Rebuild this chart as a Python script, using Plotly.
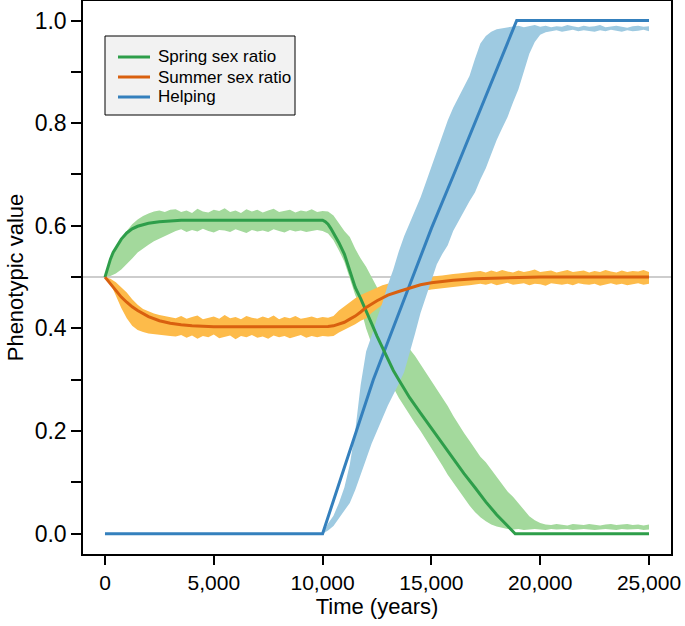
import plotly.graph_objects as go

# ---------------- data ----------------
# band time grid (years), every 250 years
TIME = list(range(0, 25001, 250))
TIME_HELP = list(range(10000, 25001, 250))

SPRING_UPPER = [
    0.500, 0.530, 0.555, 0.575, 0.590, 0.603, 0.612, 0.619, 0.624, 0.628, 0.630, 0.627, 0.631,
    0.632, 0.627, 0.630, 0.625, 0.633, 0.628, 0.626, 0.631, 0.629, 0.634, 0.627, 0.630, 0.625, 0.632,
    0.628, 0.631, 0.626, 0.630, 0.633, 0.627, 0.629, 0.631, 0.626, 0.630, 0.628, 0.632, 0.627, 0.629,
    0.628, 0.620, 0.605, 0.590, 0.578, 0.555, 0.536, 0.520, 0.500, 0.481, 0.460, 0.440, 0.420, 0.400,
    0.381, 0.360, 0.346, 0.330, 0.312, 0.296, 0.280, 0.266, 0.249, 0.230, 0.212, 0.196, 0.181, 0.166,
    0.150, 0.139, 0.125, 0.110, 0.095, 0.082, 0.072, 0.060, 0.046, 0.034, 0.026, 0.021, 0.018,
    0.017, 0.019, 0.018, 0.016, 0.019, 0.018, 0.017, 0.019, 0.018, 0.016, 0.018, 0.019, 0.017, 0.018,
    0.019, 0.017, 0.018, 0.016, 0.018,
]
SPRING_LOWER = [
    0.500, 0.502, 0.507, 0.515, 0.525, 0.536, 0.548, 0.556, 0.563, 0.570, 0.576, 0.581, 0.585,
    0.590, 0.593, 0.588, 0.592, 0.589, 0.594, 0.590, 0.587, 0.592, 0.591, 0.588, 0.593, 0.590, 0.586,
    0.592, 0.589, 0.591, 0.588, 0.593, 0.590, 0.587, 0.592, 0.589, 0.591, 0.588, 0.590, 0.592, 0.590,
    0.585, 0.572, 0.552, 0.530, 0.497, 0.465, 0.440, 0.400, 0.370, 0.345, 0.320, 0.300, 0.285, 0.265,
    0.250, 0.232, 0.215, 0.200, 0.185, 0.168, 0.150, 0.133, 0.115, 0.100, 0.085, 0.070, 0.055, 0.042,
    0.032, 0.024, 0.018, 0.014, 0.011, 0.009,
    0.008, 0.009, 0.007, 0.008, 0.009, 0.008, 0.007, 0.009, 0.008, 0.008, 0.009, 0.007, 0.008, 0.009,
    0.008, 0.007, 0.008, 0.009, 0.008, 0.007, 0.009, 0.008, 0.008, 0.009, 0.007, 0.008,
]
SUMMER_UPPER = [
    0.500, 0.497, 0.490, 0.480, 0.470, 0.457, 0.446, 0.438, 0.433, 0.429, 0.426, 0.424, 0.422,
    0.420, 0.424, 0.419, 0.422, 0.425, 0.418, 0.421, 0.423, 0.419, 0.426, 0.420, 0.422, 0.418, 0.424,
    0.421, 0.419, 0.423, 0.420, 0.425, 0.418, 0.422, 0.420, 0.424, 0.419, 0.421, 0.423, 0.420, 0.422,
    0.421, 0.424, 0.435, 0.443, 0.450, 0.459, 0.465, 0.470, 0.475, 0.480, 0.484, 0.487, 0.489, 0.491,
    0.493, 0.494, 0.496, 0.497, 0.499, 0.500, 0.502, 0.503, 0.505, 0.506, 0.507, 0.508, 0.509, 0.510,
    0.512, 0.509, 0.513, 0.510, 0.514, 0.511, 0.509, 0.513, 0.510, 0.512, 0.515, 0.510, 0.511, 0.513,
    0.509, 0.512, 0.514, 0.510, 0.511, 0.513, 0.509, 0.512, 0.510, 0.514, 0.511, 0.509, 0.513, 0.510,
    0.512, 0.511, 0.514, 0.510,
]
SUMMER_LOWER = [
    0.500, 0.488, 0.465, 0.440, 0.420, 0.405, 0.397, 0.393, 0.390, 0.388, 0.387, 0.386, 0.385,
    0.384, 0.387, 0.382, 0.386, 0.380, 0.385, 0.383, 0.388, 0.381, 0.384, 0.386, 0.379, 0.385, 0.383,
    0.387, 0.382, 0.384, 0.380, 0.386, 0.383, 0.385, 0.381, 0.384, 0.387, 0.382, 0.385, 0.383, 0.385,
    0.384, 0.385, 0.392, 0.398, 0.403, 0.408, 0.415, 0.420, 0.430, 0.438, 0.446, 0.453, 0.458, 0.462,
    0.465, 0.468, 0.470, 0.472, 0.474, 0.476, 0.478, 0.479, 0.480, 0.481, 0.482, 0.483, 0.484, 0.485,
    0.487, 0.485, 0.488, 0.484, 0.487, 0.489, 0.485, 0.486, 0.488, 0.484, 0.487, 0.486, 0.483, 0.488,
    0.486, 0.485, 0.487, 0.484, 0.488, 0.486, 0.485, 0.487, 0.483, 0.486, 0.488, 0.485, 0.487, 0.484,
    0.486, 0.488, 0.485, 0.487,
]
HELP_UPPER = [
    0.000, 0.020, 0.035, 0.060, 0.090, 0.135, 0.200, 0.290, 0.355, 0.385, 0.420, 0.450, 0.485, 0.515,
    0.550, 0.580, 0.605, 0.630, 0.655, 0.685, 0.715, 0.745, 0.775, 0.805, 0.830, 0.850, 0.870, 0.892,
    0.925, 0.955, 0.970, 0.978, 0.983, 0.985, 0.987,
    0.988, 0.990, 0.987, 0.989, 0.991, 0.988, 0.990, 0.987, 0.989, 0.988, 0.991, 0.989, 0.987, 0.990,
    0.988, 0.989, 0.991, 0.987, 0.989, 0.990, 0.988, 0.986, 0.989, 0.990, 0.988, 0.989,
]
HELP_LOWER = [
    0.000, 0.006, 0.015, 0.030, 0.045, 0.060, 0.085, 0.115, 0.145, 0.175, 0.200, 0.225, 0.250, 0.272,
    0.292, 0.315, 0.350, 0.390, 0.430, 0.460, 0.492, 0.525, 0.545, 0.562, 0.590, 0.610, 0.628, 0.648,
    0.665, 0.690, 0.712, 0.740, 0.767, 0.790, 0.812, 0.840, 0.866, 0.900, 0.935, 0.958, 0.972, 0.977,
    0.979, 0.981, 0.978, 0.980, 0.982, 0.979, 0.981, 0.980, 0.978, 0.981, 0.979, 0.982, 0.980, 0.978,
    0.981, 0.979, 0.980, 0.982, 0.979,
]

SPRING_T = [0, 125, 250, 375, 500, 750, 1000, 1250, 1500, 1750, 2000, 2500, 3000, 3500, 4000,
            10000, 10125, 10250, 10375, 10500, 10750, 11000, 11250, 11500, 11750, 12000, 12250,
            12500, 12750, 13000, 13250, 13500, 13750, 14000, 14500, 15000, 15500, 16000, 16500,
            17000, 17500, 18000, 18500, 18850, 25000]
SPRING_V = [0.500, 0.519, 0.535, 0.548, 0.557, 0.574, 0.586, 0.594, 0.599, 0.602, 0.605, 0.608,
            0.610, 0.611, 0.611,
            0.611, 0.608, 0.603, 0.595, 0.586, 0.567, 0.545, 0.512, 0.480, 0.458, 0.435, 0.410,
            0.385, 0.362, 0.340, 0.318, 0.300, 0.282, 0.265, 0.235, 0.205, 0.175, 0.145, 0.117,
            0.090, 0.062, 0.037, 0.015, 0.000, 0.000]

SUMMER_T = [0, 250, 500, 750, 1000, 1250, 1500, 2000, 2500, 3000, 3500, 4000, 5000, 10000, 10250,
            10500, 10750, 11000, 11250, 11500, 11750, 12000, 12500, 13000, 13500, 14000, 14500,
            15000, 16000, 17000, 18000, 19000, 20000, 25000]
SUMMER_V = [0.500, 0.487, 0.473, 0.461, 0.451, 0.442, 0.435, 0.423, 0.415, 0.410, 0.407, 0.405, 0.403,
            0.403, 0.4035, 0.405, 0.408, 0.412, 0.418, 0.424, 0.432, 0.441, 0.454, 0.465, 0.472,
            0.479, 0.485, 0.489, 0.494, 0.497, 0.498, 0.499, 0.500, 0.500]

HELP_T = [0, 10000, 11000, 12000, 12330, 13000, 14000, 14780, 15000, 16000, 17000, 18000, 18920, 25000]
HELP_V = [0.0, 0.0, 0.129, 0.257, 0.300, 0.374, 0.485, 0.572, 0.595, 0.697, 0.800, 0.903, 1.0, 1.0]

SERIES_NAMES = ["Spring sex ratio", "Summer sex ratio", "Helping"]

X_TICKS = [0, 5000, 10000, 15000, 20000, 25000]
X_TICK_TEXT = ["0", "5,000", "10,000", "15,000", "20,000", "25,000"]
Y_TICKS = [0.0, 0.2, 0.4, 0.6, 0.8, 1.0]
Y_TICK_TEXT = ["0.0", "0.2", "0.4", "0.6", "0.8", "1.0"]

for name, arr, ref in [("SPRING_UPPER", SPRING_UPPER, TIME), ("SPRING_LOWER", SPRING_LOWER, TIME),
                       ("SUMMER_UPPER", SUMMER_UPPER, TIME), ("SUMMER_LOWER", SUMMER_LOWER, TIME),
                       ("HELP_UPPER", HELP_UPPER, TIME_HELP), ("HELP_LOWER", HELP_LOWER, TIME_HELP),
                       ("SPRING_V", SPRING_V, SPRING_T), ("SUMMER_V", SUMMER_V, SUMMER_T),
                       ("HELP_V", HELP_V, HELP_T)]:
    if len(arr) != len(ref):
        raise SystemExit(f"{name}: {len(arr)} vs {len(ref)}")

# ---------------- styling ----------------
GREEN, GREEN_BAND = "#2e9e4a", "#a3d99c"
ORANGE, ORANGE_BAND = "#d9600f", "#fdbb4a"
BLUE, BLUE_BAND = "#3480bd", "#9ecae1"
LINE_COLORS = [GREEN, ORANGE, BLUE]
FONT = "Liberation Sans, Arial, Helvetica, sans-serif"

W, H = 685, 626
ML, MR, MT, MB = 83, 14, 1, 72
PW, PH = W - ML - MR, H - MT - MB


def px_x(px):  # pixel x -> paper
    return (px - ML) / PW


def px_y(py):  # pixel y -> paper
    return (H - MB - py) / PH


fig = go.Figure()


def band(t, lo, hi, color):
    fig.add_trace(go.Scatter(
        x=list(t) + list(t)[::-1], y=list(hi) + list(lo)[::-1],
        fill="toself", fillcolor=color, mode="lines", line=dict(width=0, color=color),
        showlegend=False, hoverinfo="skip"))


band(TIME, SPRING_LOWER, SPRING_UPPER, GREEN_BAND)
band(TIME, SUMMER_LOWER, SUMMER_UPPER, ORANGE_BAND)
band(TIME_HELP, HELP_LOWER, HELP_UPPER, BLUE_BAND)

fig.add_trace(go.Scatter(x=HELP_T, y=HELP_V, mode="lines", name=SERIES_NAMES[2],
                         line=dict(color=BLUE, width=3), showlegend=False))
fig.add_trace(go.Scatter(x=SPRING_T, y=SPRING_V, mode="lines", name=SERIES_NAMES[0],
                         line=dict(color=GREEN, width=3), showlegend=False))
fig.add_trace(go.Scatter(x=SUMMER_T, y=SUMMER_V, mode="lines", name=SERIES_NAMES[1],
                         line=dict(color=ORANGE, width=3), showlegend=False))

# reference line at 0.5
fig.add_shape(type="line", xref="paper", x0=0, x1=1, yref="y", y0=0.5, y1=0.5,
              line=dict(color="#bdbdbd", width=1.5), layer="below")

# legend box (drawn by hand to match the compact spacing)
fig.add_shape(type="rect", xref="paper", yref="paper",
              x0=px_x(105), x1=px_x(295), y0=px_y(115), y1=px_y(36),
              fillcolor="#f2f2f2", line=dict(color="black", width=1), layer="above")
for i, (nm, col) in enumerate(zip(SERIES_NAMES, LINE_COLORS)):
    yy = px_y(57 + 20 * i)
    fig.add_shape(type="line", xref="paper", yref="paper",
                  x0=px_x(118), x1=px_x(150), y0=yy, y1=yy,
                  line=dict(color=col, width=3), layer="above")
    fig.add_annotation(xref="paper", yref="paper", x=px_x(156), y=yy,
                       xanchor="left", yanchor="middle", text=nm, showarrow=False,
                       font=dict(size=17, family=FONT, color="black"))

fig.update_layout(
    width=W, height=H,
    margin=dict(l=ML, r=MR, t=MT, b=MB, autoexpand=False),
    paper_bgcolor="white", plot_bgcolor="white",
    font=dict(family=FONT, color="black", size=21),
    showlegend=False,
    xaxis=dict(range=[-1010, 26010], tickvals=X_TICKS, ticktext=X_TICK_TEXT,
               automargin=False,
               showgrid=False, zeroline=False, showline=True, linecolor="black", linewidth=1.5,
               mirror=True, ticks="outside", ticklen=9, tickwidth=1.5, tickcolor="black",
               tickfont=dict(size=21),
               title=dict(text="Time (years)", font=dict(size=22), standoff=5)),
    yaxis=dict(range=[-0.0396, 1.038], tickvals=Y_TICKS, ticktext=Y_TICK_TEXT,
               automargin=False,
               showgrid=False, zeroline=False, showline=True, linecolor="black", linewidth=1.5,
               mirror=True, ticks="outside", ticklen=10, tickwidth=1.5, tickcolor="black",
               tickfont=dict(size=23),
               minor=dict(dtick=0.1, tick0=0, ticks="outside", ticklen=10, tickwidth=1.5,
                          tickcolor="black", showgrid=False),
               title=dict(text="Phenotypic value", font=dict(size=22), standoff=5)),
)

fig.write_html("out.html", post_script="document.body.style.margin='0';",
               config={"displayModeBar": False})
